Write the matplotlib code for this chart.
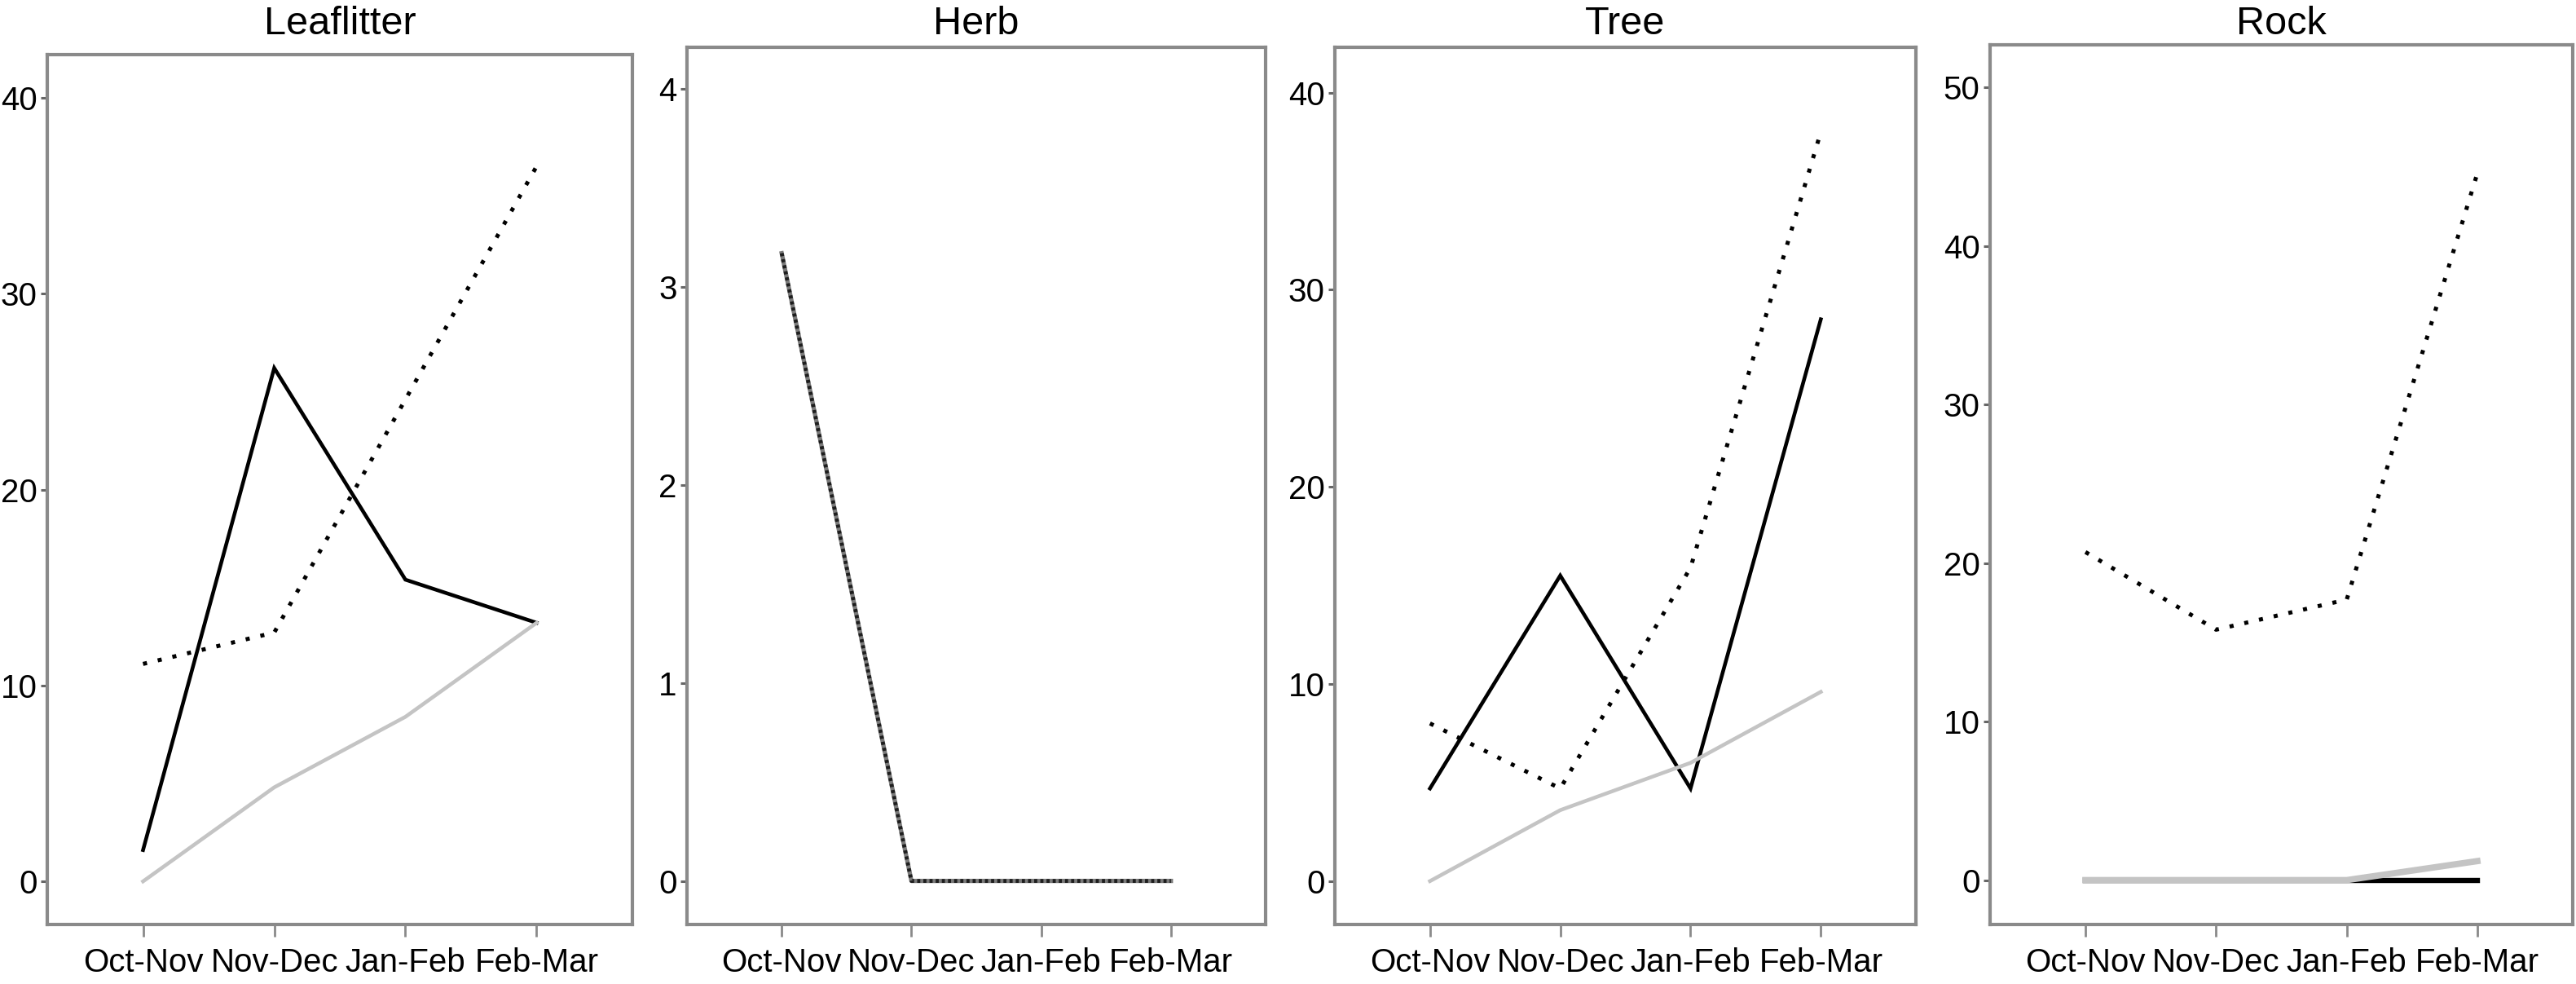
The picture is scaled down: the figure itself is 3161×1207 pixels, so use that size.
import matplotlib
matplotlib.use("Agg")
import matplotlib.pyplot as plt

plt.rcParams["font.family"] = ["Liberation Sans", "DejaVu Sans"]

periods = ["Oct-Nov", "Nov-Dec", "Jan-Feb", "Feb-Mar"]
x = list(range(len(periods)))

# Leaflitter
leaf_solid = [1.6, 26.2, 15.4, 13.2]
leaf_gray = [0, 4.8, 8.4, 13.2]
leaf_dotted = [11.1, 12.7, 24.6, 36.5]

# Herb
herb_gray = [3.17, 0, 0, 0]
herb_dotted = [3.17, 0, 0, 0]

# Tree
tree_solid = [4.7, 15.5, 4.7, 28.5]
tree_gray = [0, 3.6, 6.0, 9.6]
tree_dotted = [8.0, 4.7, 15.9, 38.0]

# Rock
rock_solid = [0, 0, 0, 0]
rock_gray = [0, 0, 0, 1.2]
rock_dotted = [20.7, 15.8, 17.7, 44.6]

W, H = 3161, 1207
fig = plt.figure(figsize=(W / 100, H / 100), dpi=100)

spine_col = "#8a8a8a"
gray_col = "#c4c4c4"


def make_ax(left, right, top, bottom=1134):
    return fig.add_axes([left / W, 1 - bottom / H, (right - left) / W, (bottom - top) / H])


def style(ax, title, yticks, ylim):
    ax.set_xlim(-0.73, 3.73)
    ax.set_ylim(*ylim)
    ax.set_xticks(x)
    ax.set_xticklabels(periods)
    ax.set_yticks(yticks)
    box = ax.get_position()
    fig.text((box.x0 + box.x1) / 2, 1 - 42 / H, title, fontsize=35,
             ha="center", va="baseline")
    for s in ax.spines.values():
        s.set_color(spine_col)
        s.set_linewidth(3.0)
    ax.tick_params(axis="x", length=11, width=2.0, color=spine_col, labelsize=29, pad=9)
    ax.tick_params(axis="y", length=6, width=2.2, color="#666666", labelsize=29, pad=3)


def draw(ax, solid=None, gray=None, dotted=None, lw_solid=3.3, lw_gray=3.3):
    if solid is not None:
        ax.plot(x, solid, color="black", lw=lw_solid, solid_joinstyle="miter")
    if gray is not None:
        ax.plot(x, gray, color=gray_col, lw=lw_gray)
    if dotted is not None:
        ax.plot(x, dotted, color="black", lw=3.6, linestyle=(0, (1, 2.7)))


ax1 = make_ax(58, 776, 67)
draw(ax1, leaf_solid, leaf_gray, leaf_dotted)
style(ax1, "Leaflitter", [0, 10, 20, 30, 40], (-2.2, 42.2))

ax2 = make_ax(843, 1553, 58)
ax2.plot(x, herb_gray, color="#7a7a7a", lw=3.8)
ax2.plot(x, herb_dotted, color="#1e1e1e", lw=3.4, linestyle=(0, (0.8, 0.8)))
style(ax2, "Herb", [0, 1, 2, 3, 4], (-0.22, 4.21))

ax3 = make_ax(1638, 2351, 58)
draw(ax3, tree_solid, tree_gray, tree_dotted)
style(ax3, "Tree", [0, 10, 20, 30, 40], (-2.2, 42.3))

ax4 = make_ax(2442, 3157, 55)
draw(ax4, rock_solid, rock_gray, rock_dotted, lw_solid=4.6, lw_gray=5.6)
style(ax4, "Rock", [0, 10, 20, 30, 40, 50], (-2.8, 52.7))

fig.savefig("out.png", dpi=100)
